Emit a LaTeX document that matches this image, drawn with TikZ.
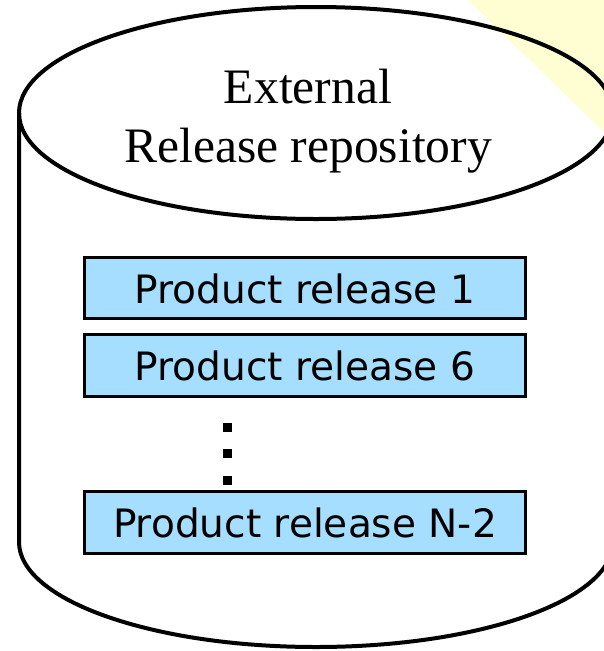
\documentclass[tikz,border=0pt]{standalone}
\usepackage{fontspec}
\setmainfont{Liberation Serif}
\newfontfamily\boxfont{DejaVu Sans}
\definecolor{relblue}{RGB}{166,222,255}
\definecolor{paleyellow}{RGB}{255,253,210}
\begin{document}
\begin{tikzpicture}[x=0.75pt,y=-0.75pt,
  cyl/.style={line width=3pt},
  title/.style={font=\fontsize{37.2}{44.3}\selectfont, anchor=base, inner sep=0pt},
  relbox/.style={draw, line width=2.4pt, fill=relblue, minimum width=331pt,
    minimum height=46pt, inner sep=0pt, text height=22.8pt, text depth=0pt,
    font=\boxfont\fontsize{29.3}{34}\selectfont},
  dotsq/.style={fill=black, minimum size=6.75pt, inner sep=0pt}]
\useasboundingbox (0,0) rectangle (604,651);
\fill[paleyellow] (468,0) -- (604,0) -- (604,132) -- cycle;
% cylinder
\draw[cyl] (19,113) -- (19,542) arc[start angle=180, end angle=0, x radius=297, y radius=105] -- (613,113);
\draw[cyl] (316,113) ellipse [x radius=297, y radius=106];
% title
\node[title] (t1) at (308,103) {External};
\node[title] (t2) at (308,162) {Release repository};
% releases
\node[relbox] (r1) at (305,288) {Product release 1};
\node[relbox] (r2) at (305,365.5) {Product release 6};
\node[relbox] (r3) at (305,522.5) {Product release N-2};
% dots
\node[dotsq] (d1) at (227,427) {};
\node[dotsq] (d2) at (227,453.5) {};
\node[dotsq] (d3) at (227,480.5) {};
\end{tikzpicture}
\end{document}
